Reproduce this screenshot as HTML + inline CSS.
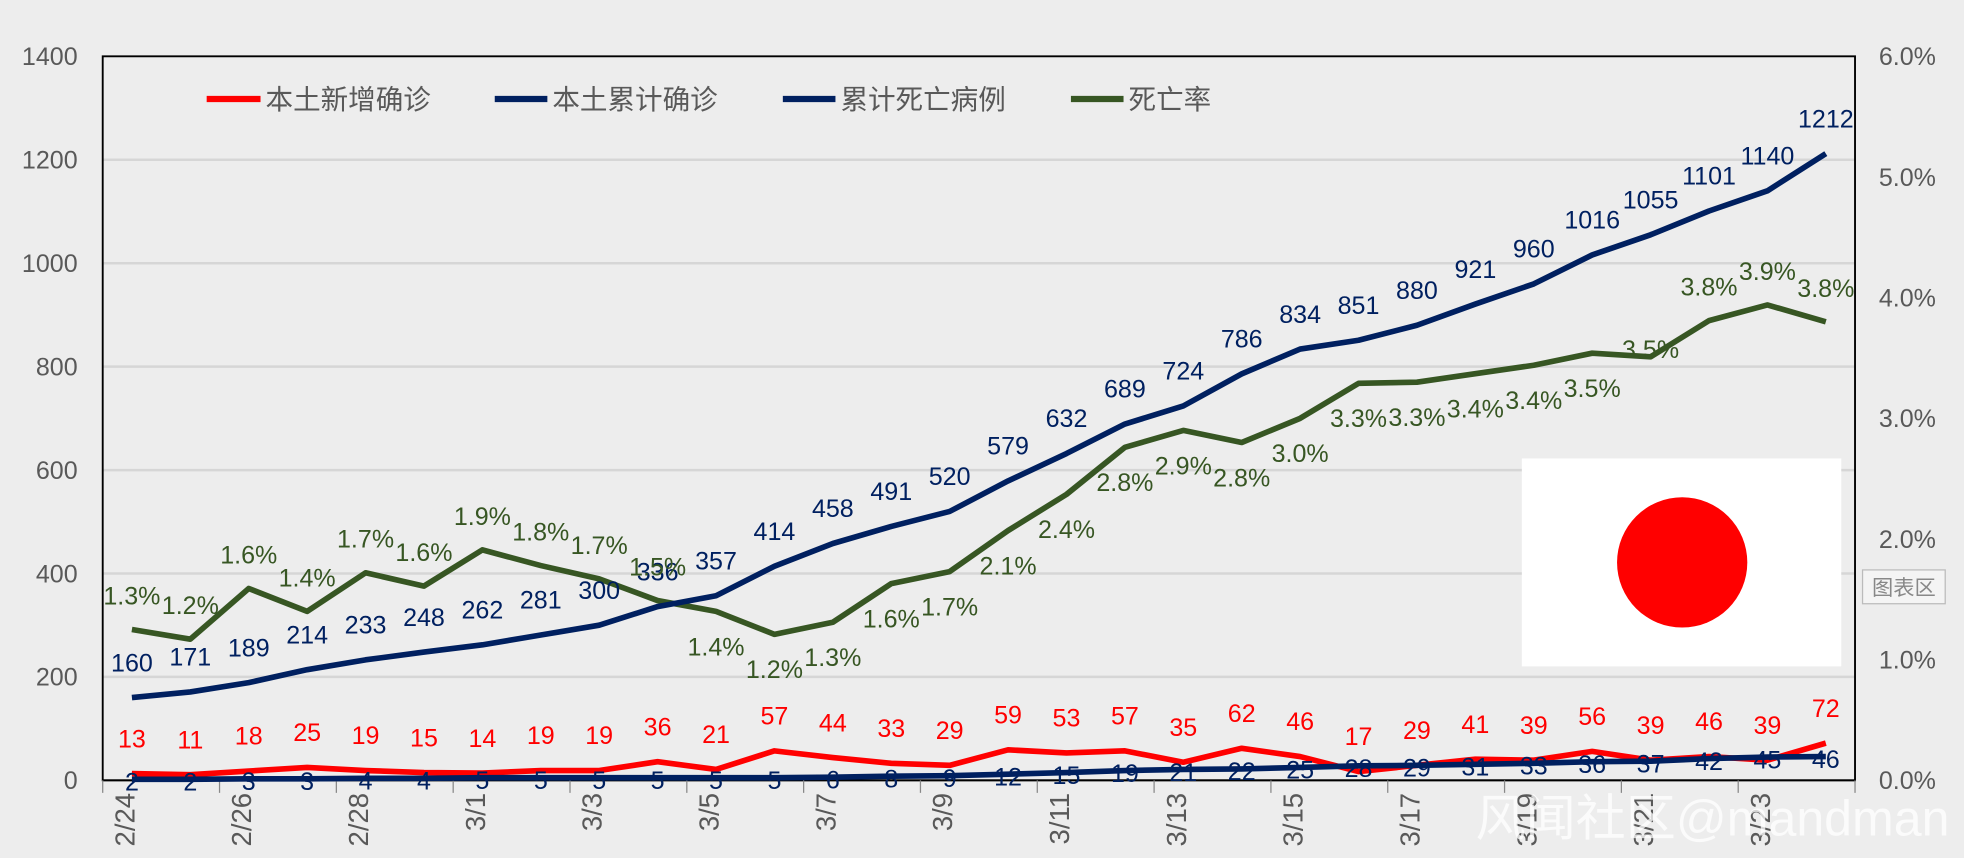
<!DOCTYPE html>
<html><head><meta charset="utf-8"><style>
html,body{margin:0;padding:0;background:#ededed;}
svg{display:block;font-family:"Liberation Sans","Noto Sans CJK SC",sans-serif;}
</style></head><body>
<svg id="c" width="1964" height="858" viewBox="0 0 1568 685">
<rect x="0" y="0" width="1568" height="685" fill="#ededed"/>
<g id="grid"></g><g id="axes"></g><g id="series"></g><g id="labels"></g>
<g font-size="22" fill="#595959">
 <g><line x1="165" y1="79" x2="208" y2="79" stroke="#ff0000" stroke-width="5"/><text x="212" y="87">本土新增确诊</text></g>
 <g><line x1="395" y1="79" x2="437" y2="79" stroke="#002060" stroke-width="5"/><text x="441" y="87">本土累计确诊</text></g>
 <g><line x1="625" y1="79" x2="667" y2="79" stroke="#002060" stroke-width="5"/><text x="671" y="87">累计死亡病例</text></g>
 <g><line x1="855" y1="79" x2="897" y2="79" stroke="#375623" stroke-width="5"/><text x="901" y="87">死亡率</text></g>
</g>
<g><rect x="1215" y="366" width="255" height="166" fill="#fff"/><circle cx="1343" cy="449" r="52" fill="#ff0000"/></g>
<g><rect x="1487" y="455" width="66" height="27" fill="#f4f4f4" stroke="#bbb"/><text x="1520" y="475" font-size="17" fill="#888" text-anchor="middle">图表区</text></g>
<text x="1178" y="667" font-size="40" fill="#ffffff" fill-opacity="0.75">风闻社区@mandman</text>
</svg>
<script>
const categories=["2/24","2/25","2/26","2/27","2/28","2/29","3/1","3/2","3/3","3/4","3/5","3/6","3/7","3/8","3/9","3/10","3/11","3/12","3/13","3/14","3/15","3/16","3/17","3/18","3/19","3/20","3/21","3/22","3/23","3/24"];
const newCases=[13,11,18,25,19,15,14,19,19,36,21,57,44,33,29,59,53,57,35,62,46,17,29,41,39,56,39,46,39,72];
const cumCases=[160,171,189,214,233,248,262,281,300,336,357,414,458,491,520,579,632,689,724,786,834,851,880,921,960,1016,1055,1101,1140,1212];
const deaths=[2,2,3,3,4,4,5,5,5,5,5,5,6,8,9,12,15,19,21,22,25,28,29,31,33,36,37,42,45,46];
const deathRate=[1.25,1.17,1.59,1.40,1.72,1.61,1.91,1.78,1.67,1.49,1.40,1.21,1.31,1.63,1.73,2.07,2.37,2.76,2.90,2.80,3.00,3.29,3.30,3.37,3.44,3.54,3.51,3.81,3.94,3.80];
const leftTicks=[0,200,400,600,800,1000,1200,1400];
const rightTicks=[0,1,2,3,4,5,6];

const NS="http://www.w3.org/2000/svg";
const L=82,R=1481,T=45,B=623;
const step=(R-L)/categories.length;
const x=i=>L+step*(i+0.5);
const yL=v=>B-(v/1400)*(B-T);
const yR=v=>B-(v/6)*(B-T);
function mk(tag,attrs,parent,txt){const e=document.createElementNS(NS,tag);for(const k in attrs)e.setAttribute(k,attrs[k]);if(txt!==undefined)e.textContent=txt;parent.appendChild(e);return e;}
const grid=document.getElementById('grid'),axes=document.getElementById('axes'),series=document.getElementById('series'),labels=document.getElementById('labels');

leftTicks.forEach(v=>{
  if(v>0&&v<1400){const g=mk('line',{x1:L,x2:R,y1:yL(v),y2:yL(v),stroke:'#d6d6d6','stroke-width':2},grid);
  
  }
  const t=mk('text',{x:62,y:yL(v)+7,'text-anchor':'end','font-size':20,fill:'#595959'},axes,String(v));
  
  
});
rightTicks.forEach(v=>{
  const t=mk('text',{x:1500,y:yR(v)+7,'font-size':20,fill:'#595959'},axes,v.toFixed(1)+'%');
  
  
});
const fr=mk('path',{d:`M${L},${B} L${L},${T} L${R},${T} L${R},${B} Z`,fill:'none',stroke:'#000','stroke-width':1.5},axes);


const xa=mk('line',{x1:L,x2:R,y1:B,y2:B,stroke:'#000','stroke-width':1.5},axes);


for(let i=0;i<=categories.length;i+=2){
  const tk=mk('line',{x1:L+step*i,x2:L+step*i,y1:B,y2:B+10,stroke:'#888','stroke-width':1},axes);
  
  
}
categories.forEach((c,i)=>{
  if(i%2)return;
  const t=mk('text',{x:0,y:0,'text-anchor':'end','font-size':22,fill:'#595959',transform:`translate(${x(i)+2},633) rotate(-90)`},axes,c);
  
  
});

function line(arr,fy,color,name){
  const p=mk('polyline',{points:arr.map((v,i)=>x(i)+','+fy(v)).join(' '),fill:'none',stroke:color,'stroke-width':4.5,'stroke-linejoin':'round'},series);
  
  
}
line(deathRate,yR,'#375623','death-rate-line');
line(cumCases,yL,'#002060','cumulative-cases-line');
line(newCases,yL,'#ff0000','new-cases-line');
line(deaths,yL,'#002060','deaths-line');

function lab(txt,xx,yy,color,name){
  const t=mk('text',{x:xx,y:yy,'text-anchor':'middle','font-size':20,fill:color},labels,txt);
  
  
}
newCases.forEach((v,i)=>lab(String(v),x(i),yL(v)-21,'#ff0000','new-cases-label'));
cumCases.forEach((v,i)=>lab(String(v),x(i),yL(v)-21,'#002060','cumulative-cases-label'));
deaths.forEach((v,i)=>lab(String(v),x(i),yL(v)+9,'#002060','deaths-label'));
deathRate.forEach((v,i)=>{
  const off=(i>=10&&i<=25)?35:(i===26?1:-20);
  lab(v.toFixed(1)+'%',x(i),yR(v)+off,'#375623','death-rate-label');
});
</script>
</body></html>
